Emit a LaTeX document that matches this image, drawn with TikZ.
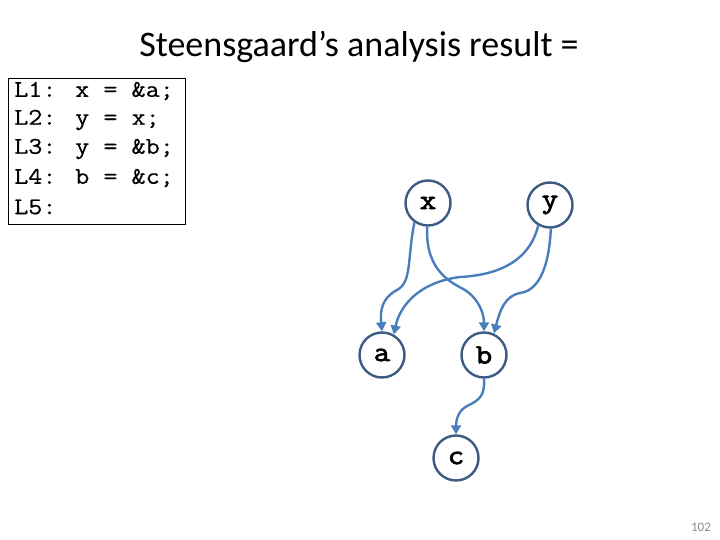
\documentclass[tikz,border=0pt]{standalone}
\usepackage{fontspec}
\setmainfont{Carlito}
\newfontfamily\codefont[FakeStretch=1.14,FakeBold=0.6]{Latin Modern Mono}
\newfontfamily\boldcode[FakeStretch=1.14,FakeBold=2.5]{Latin Modern Mono}
\usetikzlibrary{arrows.meta}
\definecolor{nodeline}{HTML}{3C5A82}
\definecolor{edgeblue}{HTML}{4A7EBB}
\definecolor{pagegray}{HTML}{8C8C8C}
\tikzset{
  ptnode/.style={circle, draw=nodeline, line width=2.4pt, fill=white, minimum size=45pt, inner sep=0pt, font=\boldcode\fontsize{28}{28}\selectfont},
  ptedge/.style={draw=edgeblue, line width=2.4pt, -{Triangle[length=9pt,width=10pt]}},
  codeline/.style={anchor=west, inner sep=0pt, font=\codefont\fontsize{24}{24}\selectfont}
}
\begin{document}
\begin{tikzpicture}[x=1pt,y=-1pt]
\useasboundingbox (0,0) rectangle (720,540);
\node[font=\fontsize{36}{36}\selectfont] (title) at (359,47) {Steensgaard’s analysis result =};
\node[draw=black, line width=0.8pt, minimum width=177pt, minimum height=146pt, inner sep=0pt] (box) at (96.5,151) {};
\node[codeline] (l1) at (14,91) {L1: x = \&a;};
\node[codeline] (l2) at (14,120) {L2: y = x;};
\node[codeline] (l3) at (14,149) {L3: y = \&b;};
\node[codeline] (l4) at (14,178) {L4: b = \&c;};
\node[codeline] (l5) at (14,207) {L5:};
\node[ptnode] (x) at (428,203) {x};
\node[ptnode] (y) at (550,205) {y};
\node[ptnode] (a) at (382,355) {a};
\node[ptnode] (b) at (484,355) {b};
\node[ptnode] (c) at (456,458) {c};
\draw[ptedge] (x.235) .. controls (407,260) and (412,282) .. (397,290) .. controls (382,298) and (380,310) .. (a.north);
\draw[ptedge] (x.268) .. controls (425,270) and (450,282) .. (465,290) .. controls (480,300) and (484,315) .. (b.north);
\draw[ptedge] (y.240) .. controls (530,260) and (500,275) .. (460,277) .. controls (420,282) and (400,305) .. (a.60);
\draw[ptedge] (y.272) .. controls (550,250) and (545,290) .. (520,293) .. controls (505,296) and (500,310) .. (b.65);
\draw[ptedge] (b.south) .. controls (485,395) and (480,400) .. (467,406) .. controls (458,411) and (456,420) .. (c.north);
\node[font=\fontsize{13}{13}\selectfont, text=pagegray] (pg) at (701,527) {102};
\end{tikzpicture}
\end{document}
